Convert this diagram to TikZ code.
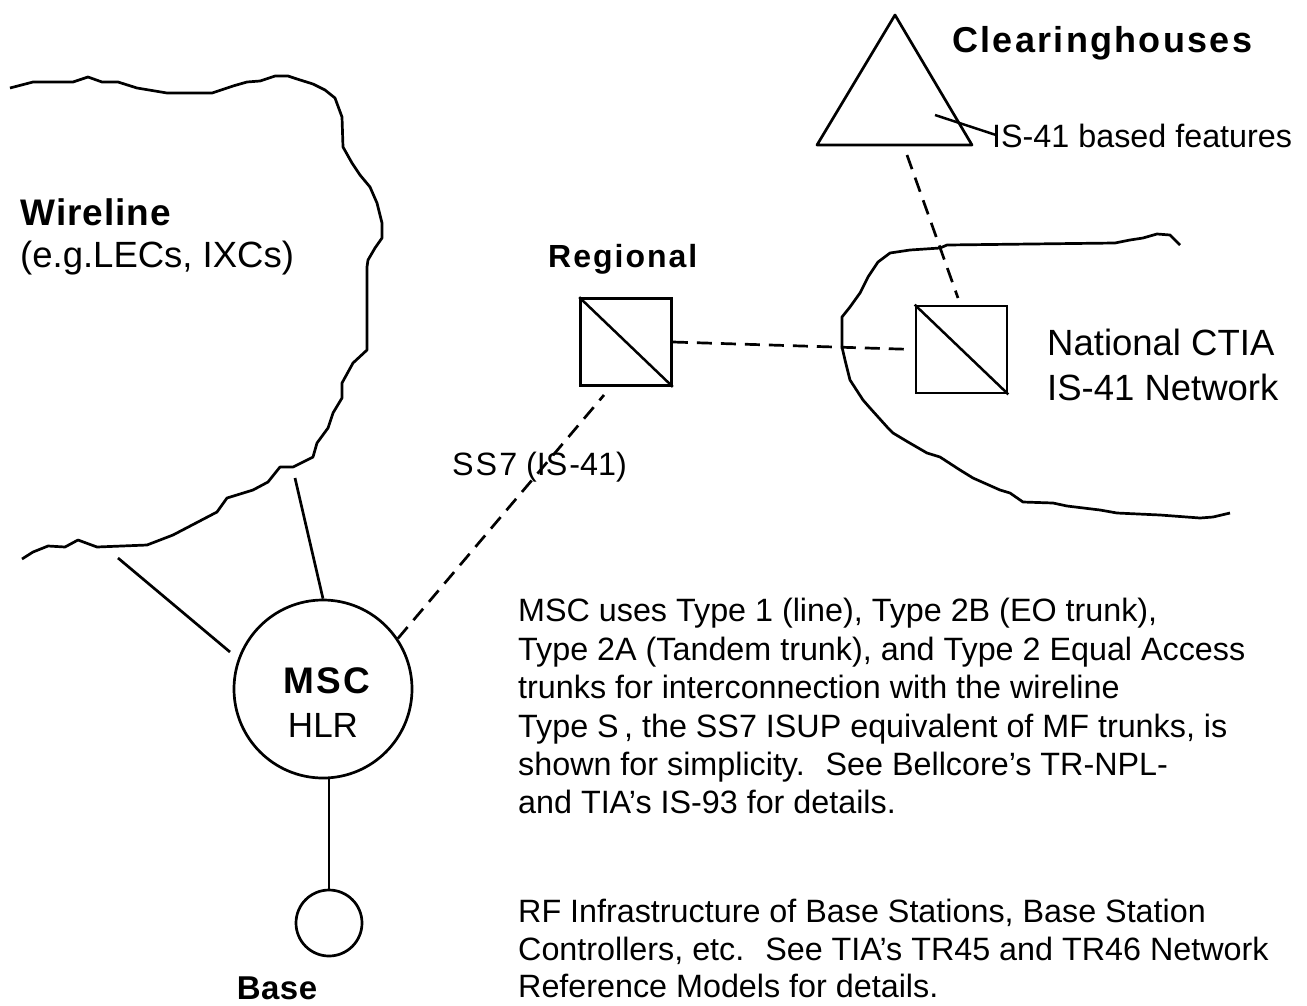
\documentclass[tikz,border=0pt]{standalone}
\usepackage{fontspec}
\setmainfont{Liberation Sans}
\usetikzlibrary{calc}
\makeatletter
\newcommand\lspc[2]{\def\lspc@k{#1}\lspc@b#2\relax}
\def\lspc@b#1{#1\lspc@a}
\def\lspc@a#1{\ifx\relax#1\else\kern\lspc@k#1\expandafter\lspc@a\fi}
\makeatother
\begin{document}
\begin{tikzpicture}[x=1pt,y=-1pt,
  ln/.style={line width=2.7pt, line join=round},
  dsh/.style={line width=2.7pt, dash pattern=on 15pt off 9pt},
  lbl/.style={inner sep=0pt, anchor=base west},
  body/.style={lbl, font=\fontsize{32.3}{38}\selectfont},
  big/.style={lbl, font=\fontsize{36.5}{42}\selectfont},
  swbox/.style={draw, line width=2.7pt, minimum width=91pt, minimum height=87pt, inner sep=0pt},
  ring/.style={circle, draw, line width=2.7pt, inner sep=0pt}]
\useasboundingbox (0,0) rectangle (1307,1005);

% Wireline cloud
\draw[ln] (10,88) -- (33,82) -- (73,82) -- (88,77) -- (102,82) -- (118,82) -- (137,88) -- (167,93) -- (212,93) -- (233,86) -- (247,82) -- (260,81) -- (275,76) -- (288,76) -- (297,79) -- (313,84) -- (325,90) -- (335,98) -- (342,117) -- (343,147) -- (352,163) -- (360,175) -- (370,187) -- (377,203) -- (382,223) -- (382,238) -- (375,248) -- (368,260) -- (367,267) -- (367,350) -- (353,363) -- (342,383) -- (342,398) -- (333,413) -- (328,428) -- (317,443) -- (313,457) -- (293,467) -- (280,467) -- (268,482) -- (253,490) -- (227,498) -- (217,512) -- (173,535) -- (147,545) -- (97,547) -- (78,540) -- (65,547) -- (48,546) -- (33,552) -- (22,559);

% National network cloud
\draw[ln] (1180,245) -- (1170,235) -- (1157,234) -- (1143,238) -- (1130,240) -- (1115,243) -- (947,245) -- (940,248) -- (910,250) -- (890,253) -- (878,262) -- (868,277) -- (860,293) -- (850,307) -- (842,317) -- (842,347) -- (845,360) -- (850,380) -- (863,400) -- (870,408) -- (888,428) -- (893,433) -- (908,442) -- (927,453) -- (940,457) -- (960,470) -- (973,478) -- (1000,490) -- (1010,493) -- (1023,502) -- (1053,503) -- (1067,506) -- (1100,510) -- (1117,513) -- (1160,515) -- (1200,518) -- (1213,517) -- (1230,513);

% Clearinghouse triangle
\coordinate (tapex) at (895,15);
\coordinate (tleft) at (817,145);
\coordinate (tright) at (972,145);
\draw[ln] (tapex) -- (tleft) -- (tright) -- cycle;

% nodes
\node[ring, minimum size=178pt] (msc) at (323,689) {};
\node[ring, minimum size=66pt] (base) at (329,923) {};
\node[swbox] (reg) at (626,342) {};
\node[swbox] (nat) at (961.5,349.5) {};
\draw[line width=2.5pt] (reg.north west) -- (reg.south east);
\draw[line width=2.5pt] (nat.north west) -- (nat.south east);

% helper coordinates for free ends
\coordinate (w1a) at (118,558);
\coordinate (w1b) at (230,652);
\coordinate (w2a) at (295,478);
\coordinate (rgb) at (604,395);
\coordinate (trd) at (907,155);
\coordinate (ntt) at (958,298);
\coordinate (lda) at (935,115);
\coordinate (ldb) at (996,135);

% connectors
\draw[ln] (w1a) -- (w1b);
\draw[ln] (w2a) -- (msc.north);
\draw[ln] (base.north) -- (base.north |- msc.south);
\draw[dsh] (msc.34) -- (rgb);
\draw[dsh, shorten >=4pt] (reg.east) -- (nat.west);
\draw[dsh] (trd) -- (ntt);
\draw[line width=2.5pt] (lda) -- (ldb);

% labels
\node[lbl, font=\fontsize{37}{42}\selectfont\bfseries] (wl) at (20,225) {\lspc{1pt}{Wireline}};
\node[big] (wl2) at (20,267) {(e.g.LECs, IXCs)};
\node[lbl, font=\fontsize{32}{38}\selectfont\bfseries] (rgl) at (548,267) {\lspc{2pt}{Regional}};
\node[lbl, font=\fontsize{36}{42}\selectfont\bfseries] (clh) at (952,52) {\lspc{2.3pt}{Clearinghouses}};
\node[body] (isf) at (992,147) {IS-41 based features};
\node[big] (nt1) at (1047,355) {National CTIA};
\node[big] (nt2) at (1047,400) {IS-41 Network};
\node[body] (ss7) at (452,475) {S\kern2pt S\kern2pt 7 (IS\kern2pt -41)};
\node[inner sep=0pt, anchor=base, font=\fontsize{37}{42}\selectfont\bfseries] (mscl) at (327,693) {\lspc{2pt}{MSC}};
\node[inner sep=0pt, anchor=base, font=\fontsize{35}{40}\selectfont] (hlr) at (323,737) {HLR};
\node[inner sep=0pt, anchor=base, font=\fontsize{33}{38}\selectfont\bfseries] (basel) at (277,999) {\lspc{0.5pt}{Base}};

\node[body] (a1) at (518,621) {MSC uses Type 1 (line), Type 2B (EO trunk),};
\node[body] (a2) at (518,660) {Type 2A (Tandem trunk), and Type 2 Equal Access};
\node[body] (a3) at (518,698) {trunks for interconnection with the wireline};
\node[body] (a4) at (518,737) {Type S\,, the SS7 ISUP equivalent of MF trunks, is};
\node[body] (a5) at (518,775) {shown for simplicity.~ See Bellcore’s TR-NPL-};
\node[body] (a6) at (518,813) {and TIA’s IS-93 for details.};

\node[body] (b1) at (518,922) {RF Infrastructure of Base Stations, Base Station};
\node[body] (b2) at (518,960) {Controllers, etc.~ See TIA’s TR45 and TR46 Network};
\node[body] (b3) at (518,997) {Reference Models for details.};
\end{tikzpicture}
\end{document}
